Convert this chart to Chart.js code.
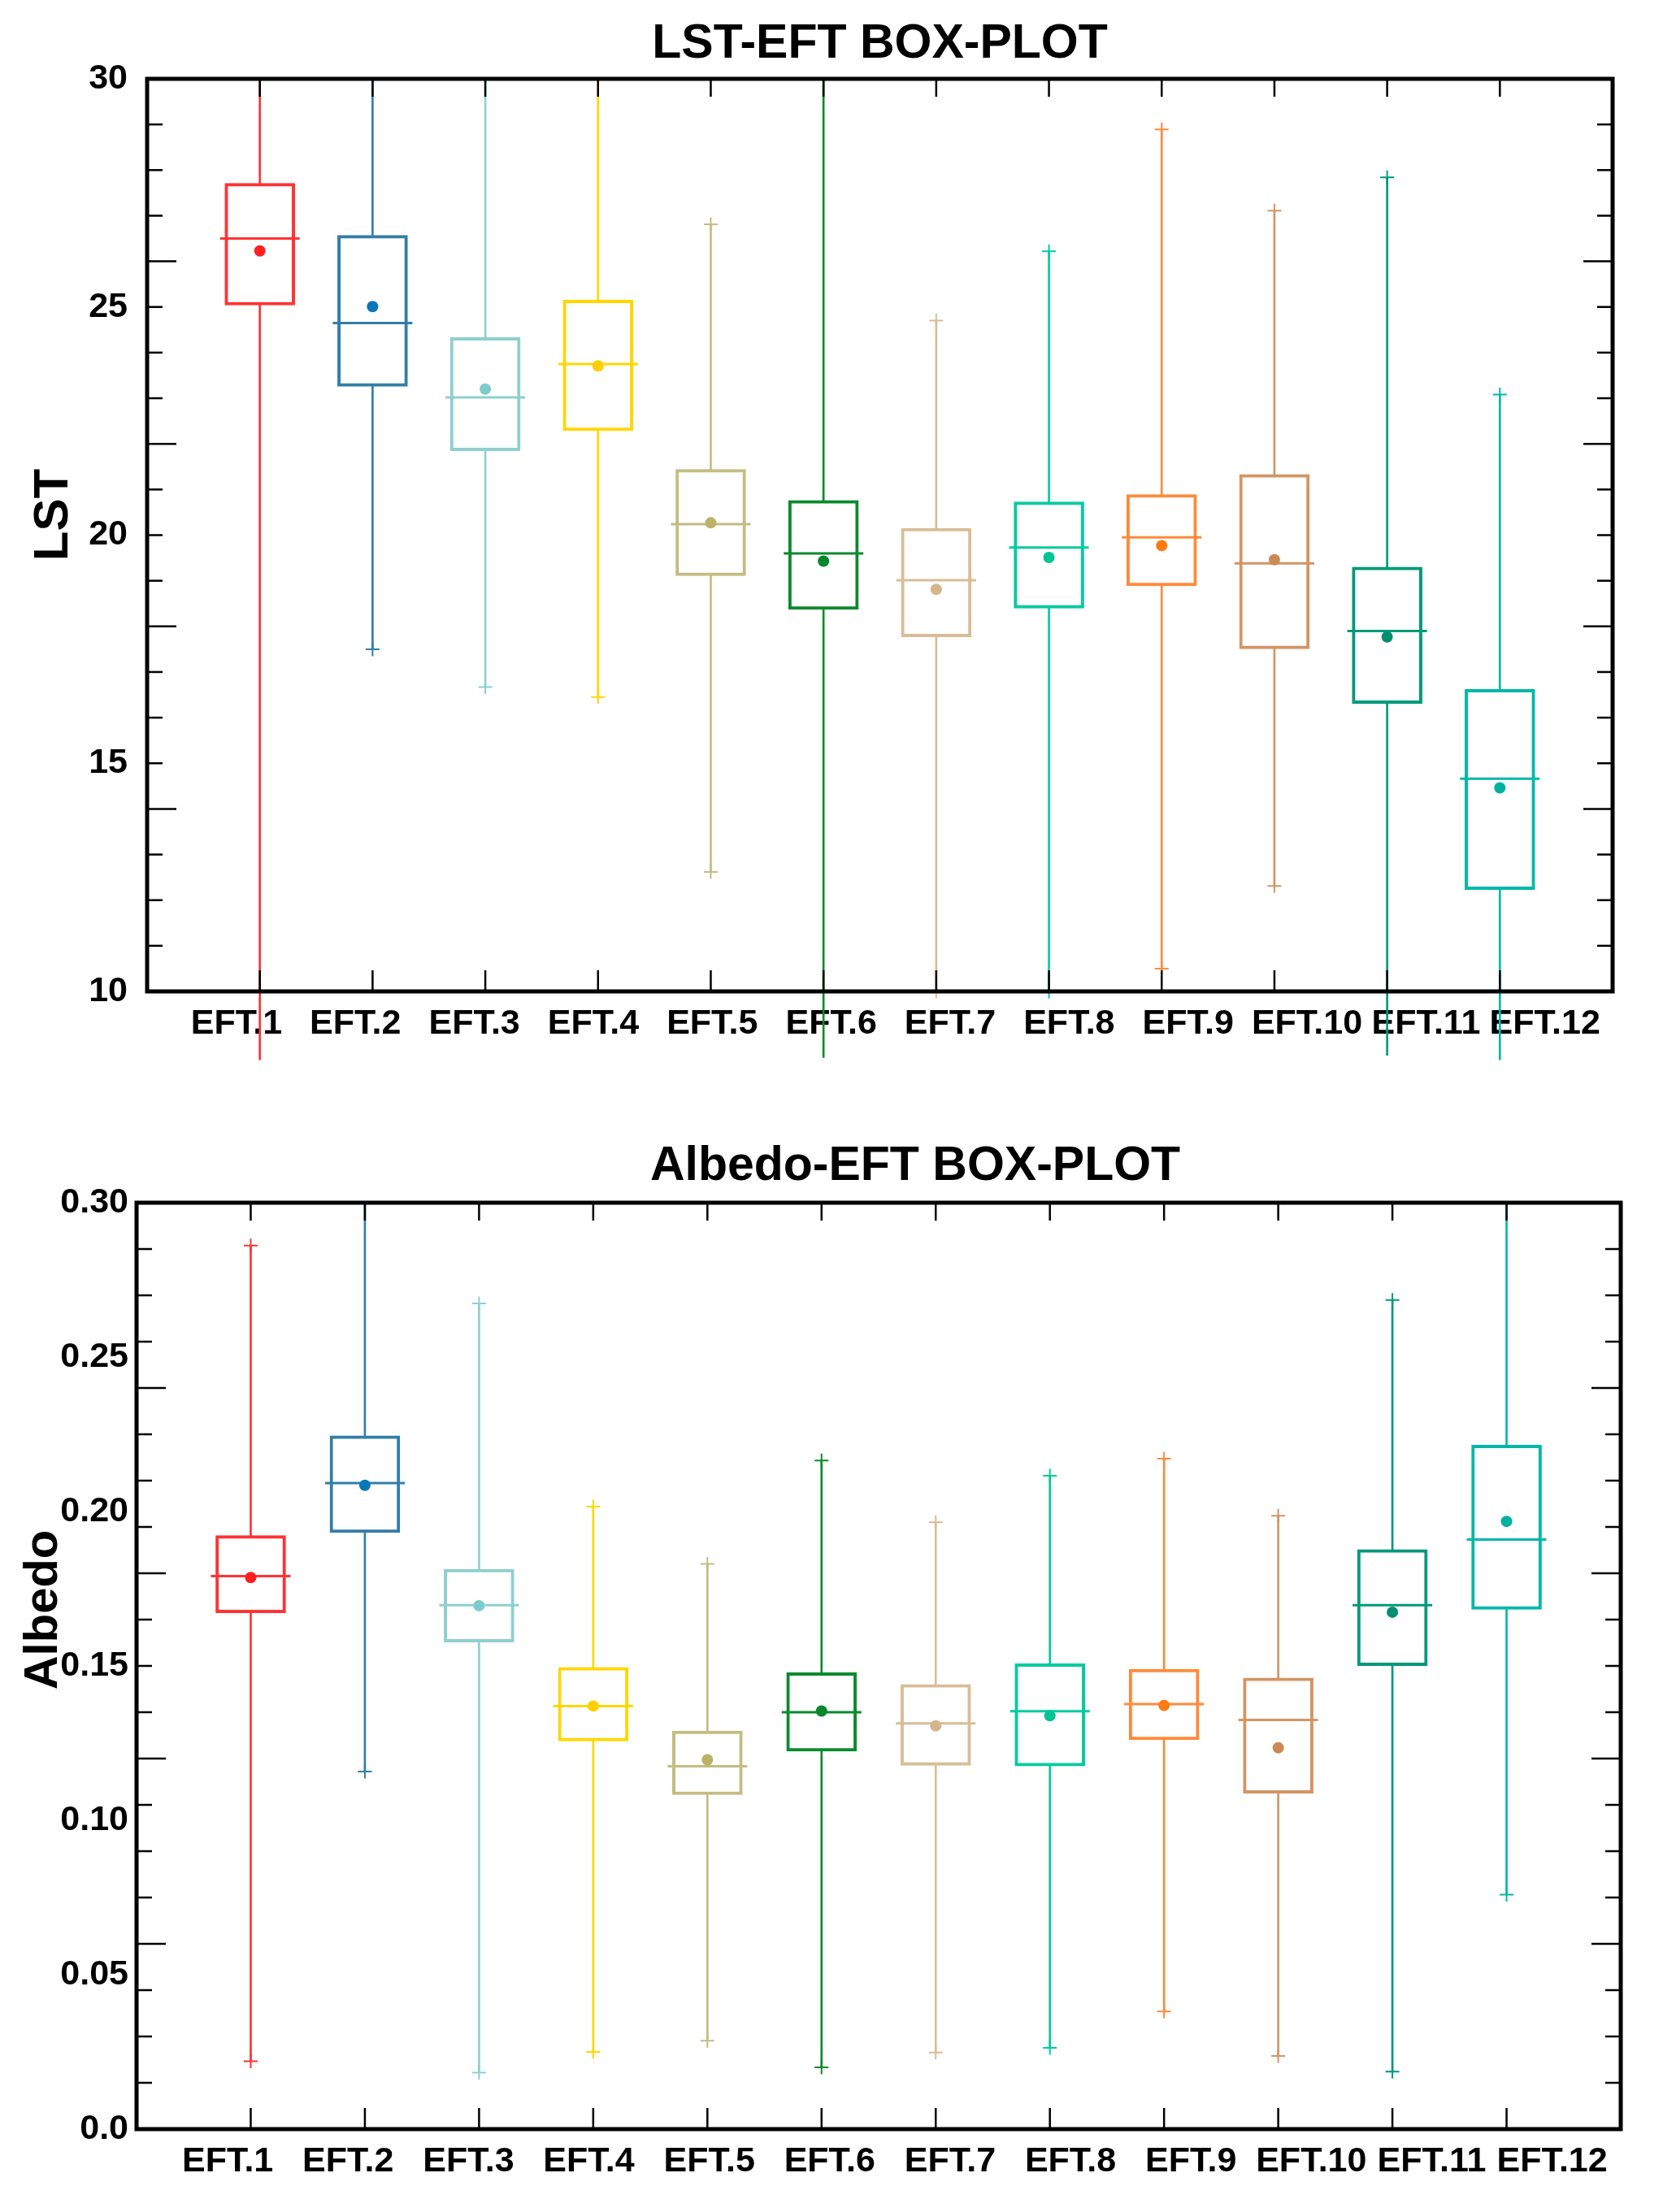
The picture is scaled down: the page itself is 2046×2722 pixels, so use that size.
<!DOCTYPE html>
<html><head><meta charset="utf-8">
<script src="https://cdn.jsdelivr.net/npm/chart.js@4.4.1/dist/chart.umd.min.js"></script>
<style>
html,body{margin:0;padding:0;background:#fff;}
#wrap{position:relative;width:2046px;height:2722px;background:#fff;overflow:hidden;}
canvas{position:absolute;left:0;}
</style></head><body>
<div id="wrap">
<canvas id="lst" width="2046" height="1390" style="top:0;width:2046px;height:1390px"></canvas>
<canvas id="alb" width="2046" height="1332" style="top:1390px;width:2046px;height:1332px"></canvas>
</div>
<script>
// ---------- shared ----------
const categories = ['EFT.1','EFT.2','EFT.3','EFT.4','EFT.5','EFT.6','EFT.7','EFT.8','EFT.9','EFT.10','EFT.11','EFT.12'];
const lineColors = ['#ff3333','#327ea8','#8ecfcf','#ffd700','#c4bc82','#0b8a2c','#d8bd96','#00cca0','#ff8a3a','#d39564','#00997a','#00b8a8'];
const meanColors = ['#ff2020','#0a78b8','#7ccccc','#ffcf00','#bcb268','#06882a','#d4b68a','#00c494','#ff7a10','#c98a55','#009070','#00b0a0'];

// ---------- LST panel ----------
const lstTitle = 'LST-EFT BOX-PLOT';
const lstAxisTitle = 'LST';
const lstYTicks = [10, 15, 20, 25, 30];
const lstYTickLabels = ['10', '15', '20', '25', '30'];
const lstMin    = [8.5, 17.5, 16.67, 16.45, 12.62, 8.55, 10.0, 10.0, 10.5, 12.31, 8.6, 8.5];
const lstQ1     = [25.04, 23.26, 21.85, 22.29, 19.11, 18.37, 17.77, 18.4, 18.89, 17.51, 16.31, 12.23];
const lstMedian = [26.5, 24.65, 23.02, 23.75, 20.24, 19.6, 19.01, 19.73, 19.95, 19.38, 17.9, 14.66];
const lstQ3     = [27.71, 26.57, 24.33, 25.15, 21.44, 20.76, 20.15, 20.73, 20.89, 21.33, 19.3, 16.62];
const lstMax    = [31, 31, 31, 31, 26.81, 31, 24.7, 26.22, 28.89, 27.11, 27.84, 23.08];
const lstMean   = [26.23, 25.01, 23.2, 23.71, 20.27, 19.43, 18.81, 19.51, 19.77, 19.46, 17.77, 14.46];

// ---------- Albedo panel ----------
const albTitle = 'Albedo-EFT BOX-PLOT';
const albAxisTitle = 'Albedo';
const albYTicks = [0, 0.05, 0.10, 0.15, 0.20, 0.25, 0.30];
const albYTickLabels = ['0.0', '0.05', '0.10', '0.15', '0.20', '0.25', '0.30'];
const albMin    = [0.022, 0.1158, 0.0183, 0.025, 0.0286, 0.020, 0.0248, 0.0263, 0.0381, 0.0237, 0.0186, 0.0759];
const albQ1     = [0.1672, 0.1932, 0.1577, 0.1257, 0.1083, 0.1224, 0.1178, 0.1176, 0.1261, 0.1088, 0.1501, 0.1683];
const albMedian = [0.1791, 0.2092, 0.1697, 0.137, 0.1175, 0.135, 0.1314, 0.1353, 0.1376, 0.1325, 0.1697, 0.1909];
const albQ3     = [0.1922, 0.2245, 0.1813, 0.1495, 0.1289, 0.1478, 0.144, 0.1507, 0.1489, 0.1461, 0.1877, 0.2215];
const albMax    = [0.2861, 0.31, 0.2674, 0.2016, 0.183, 0.2165, 0.1965, 0.2116, 0.2171, 0.1986, 0.2685, 0.31];
const albMean   = [0.1786, 0.2085, 0.1695, 0.137, 0.1196, 0.1354, 0.1306, 0.1339, 0.1372, 0.1235, 0.1674, 0.1968];

// ---------- helpers ----------
const FONT = "'Liberation Sans', Arial, Helvetica, sans-serif";
Chart.defaults.font.family = FONT;
Chart.defaults.color = '#000';
const xLabels = ['', ...categories, ''];
const pad = a => [null, ...a, null];
const padC = a => ['#000000', ...a, '#000000'];
const clipTop = {left: false, top: 0, right: false, bottom: false};

const framePlugin = {
  id: 'frame',
  afterDraw(chart, args, o) {
    const {ctx, chartArea: a, scales: {x, y}} = chart;
    ctx.save();
    ctx.strokeStyle = '#000';
    ctx.lineCap = 'butt';
    const seg = (x1, y1, x2, y2) => { ctx.beginPath(); ctx.moveTo(x1, y1); ctx.lineTo(x2, y2); ctx.stroke(); };
    ctx.lineWidth = 2.5;
    const n = o.minorCount;
    for (let i = 0; i <= n; i++) {
      const v = y.min + i * (y.max - y.min) / n;
      const py = y.getPixelForValue(v);
      const len = (i % 4 === 0) ? o.majorLen : o.minorLen;
      seg(a.left, py, a.left + len, py);
      seg(a.right, py, a.right - len, py);
    }
    for (let i = 1; i <= categories.length; i++) {
      const px = x.getPixelForValue(i);
      seg(px, a.top, px, a.top + o.xTopLen);
      seg(px, a.bottom, px, a.bottom - o.xBotLen);
    }
    ctx.lineWidth = 5;
    ctx.strokeRect(a.left, a.top, a.right - a.left, a.bottom - a.top);
    ctx.fillStyle = '#000';
    ctx.textAlign = 'center';
    ctx.textBaseline = 'middle';
    // main title
    ctx.font = 'bold ' + o.titleSize + 'px ' + FONT;
    ctx.fillText(o.title, (a.left + a.right) / 2 + o.titleDx, o.titleY);
    // y-axis title (rotated)
    ctx.save();
    ctx.translate(o.axisTitleX, (a.top + a.bottom) / 2 + o.axisTitleDy);
    ctx.rotate(-Math.PI / 2);
    ctx.font = 'bold ' + o.axisTitleSize + 'px ' + FONT;
    ctx.fillText(o.axisTitle, 0, 0);
    ctx.restore();
    ctx.restore();
  }
};

function boxChart(id, c) {
  const lc = padC(lineColors), mc = padC(meanColors);
  return new Chart(document.getElementById(id), {
    type: 'bar',
    data: {
      labels: xLabels,
      datasets: [
        { type: 'bar', data: pad(c.min.map((v, i) => [v, c.max[i]])), backgroundColor: lc,
          borderWidth: 0, barThickness: 2, grouped: false, order: 10, clip: clipTop },
        { type: 'bar', data: pad(c.q1.map((v, i) => [v, c.q3[i]])), backgroundColor: '#ffffff',
          borderColor: lc, borderWidth: 4, borderSkipped: false, barThickness: 86, grouped: false, order: 9 },
        { type: 'line', data: pad(c.median), showLine: false, pointStyle: 'line', pointRadius: 49,
          pointBorderColor: lc, pointBorderWidth: 3, order: 3 },
        { type: 'line', data: pad(c.mean), showLine: false, pointStyle: 'circle', pointRadius: 7,
          pointBackgroundColor: mc, pointBorderWidth: 0, order: 2 },
        { type: 'line', data: pad(c.max), showLine: false, pointStyle: 'cross', pointRadius: 8.5,
          pointBorderColor: lc, pointBorderWidth: 2, order: 1, clip: clipTop },
        { type: 'line', data: pad(c.min), showLine: false, pointStyle: 'cross', pointRadius: 8.5,
          pointBorderColor: lc, pointBorderWidth: 2, order: 1, clip: clipTop }
      ]
    },
    options: {
      responsive: false, animation: false, events: [],
      layout: { padding: c.padding },
      plugins: {
        legend: { display: false }, tooltip: { enabled: false },
        frame: { minorCount: 20, majorLen: 36, minorLen: 19, xTopLen: 22, xBotLen: 26,
                 title: c.title, titleSize: 59, titleY: c.titleY, titleDx: c.titleDx,
                 axisTitle: c.axisTitle, axisTitleSize: c.axisTitleSize, axisTitleX: c.axisTitleX, axisTitleDy: c.axisTitleDy }
      },
      scales: {
        x: { offset: false, display: false },
        xl: {
          type: 'linear', position: 'bottom', axis: 'x', offset: false, bounds: 'data',
          min: c.labelMin, max: c.labelMax, z: 1,
          grid: { display: false, drawTicks: false, offset: false }, border: { display: false },
          afterBuildTicks: s => { s.ticks = categories.map((t, i) => ({ value: i + 1 })); },
          ticks: { autoSkip: false, maxRotation: 0, minRotation: 0, padding: 14,
                   font: { size: 43, weight: 'bold' }, color: '#000',
                   callback: (v, i) => categories[i] },
          afterFit: s => { s.height = c.xHeight; }
        },
        y: {
          min: c.yMin, max: c.yMax,
          grid: { display: false, drawTicks: false }, border: { display: false },
          afterBuildTicks: s => { s.ticks = c.yTicks.map(v => ({ value: v })); },
          ticks: { padding: c.yTickPad, font: { size: 43, weight: 'bold' }, color: '#000',
                   callback: (v, i) => c.yTickLabels[i] },
          title: { display: false },
          afterFit: s => { s.width = c.yWidth; }
        }
      }
    },
    plugins: [framePlugin]
  });
}

boxChart('lst', {
  min: lstMin, q1: lstQ1, median: lstMedian, q3: lstQ3, max: lstMax, mean: lstMean,
  yMin: 10, yMax: 30, yTicks: lstYTicks, yTickLabels: lstYTickLabels,
  title: lstTitle, titleY: 55, titleDx: 0,
  axisTitle: lstAxisTitle, axisTitleSize: 60, axisTitleX: 66, axisTitleDy: -25,
  padding: { top: 97, right: 62, left: 0, bottom: 0 }, xHeight: 170, yWidth: 181, yTickPad: 24,
  labelMin: 0.249, labelMax: 12.569
});

boxChart('alb', {
  min: albMin, q1: albQ1, median: albMedian, q3: albQ3, max: albMax, mean: albMean,
  yMin: 0, yMax: 0.30, yTicks: albYTicks, yTickLabels: albYTickLabels,
  title: albTitle, titleY: 46, titleDx: 45,
  axisTitle: albAxisTitle, axisTitleSize: 58, axisTitleX: 54, axisTitleDy: -69,
  padding: { top: 90, right: 45, left: 0, bottom: 0 }, xHeight: 102, yWidth: 168, yTickPad: 10,
  labelMin: 0.243, labelMax: 12.57
});
</script>
</body></html>
